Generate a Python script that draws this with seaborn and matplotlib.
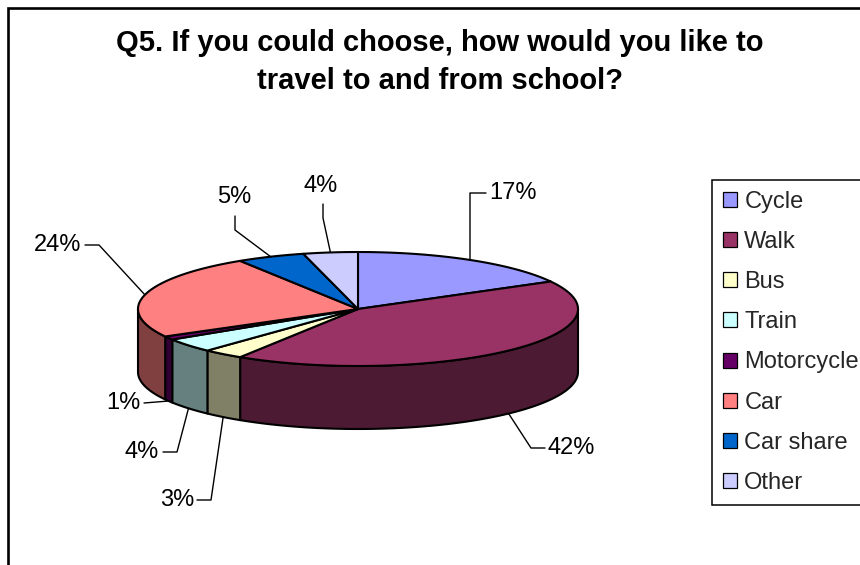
import numpy as np
import matplotlib
matplotlib.use("Agg")
import matplotlib.pyplot as plt
from matplotlib.patches import Polygon, Patch
from matplotlib.colors import to_rgb
import seaborn as sns

# ---- data -------------------------------------------------------------
categories = ["Cycle", "Walk", "Bus", "Train", "Motorcycle", "Car", "Car share", "Other"]
shares = [17, 42, 3, 4, 1, 24, 5, 4]
top_hex = ["#9999FF", "#993366", "#FFFFCC", "#CCFFFF", "#660066", "#FF8080", "#0066CC", "#CCCCFF"]
title = "Q5. If you could choose, how would you like to\ntravel to and from school?"

# ---- style ------------------------------------------------------------
sns.set_theme(style="white")
plt.rcParams["font.family"] = ["Liberation Sans", "DejaVu Sans"]
palette = sns.color_palette(top_hex)
side_palette = [tuple(0.5 * np.array(to_rgb(c))) for c in palette]

fig = plt.figure(figsize=(8.6, 5.65), dpi=100)
ax = fig.add_axes([0, 0, 1, 1])
ax.set_xlim(0, 860)
ax.set_ylim(565, 0)
ax.axis("off")

# chart-area border (left and top visible)
ax.plot([8, 8, 870], [575, 8, 8], color="black", lw=1.9, solid_joinstyle="miter")

# ---- 3-D pie geometry -------------------------------------------------
CX, CY = 358, 309      # centre of top face
RX, RY = 220, 57       # ellipse radii of top face
DEPTH = 63             # thickness of the pie
EDGE = dict(edgecolor="black", linewidth=1.5, joinstyle="round")


def rim(theta_deg, drop=0.0):
    t = np.radians(theta_deg)
    return np.column_stack([CX + RX * np.cos(t), CY - RY * np.sin(t) + drop])


total = float(sum(shares))
cum = np.concatenate([[0], np.cumsum(shares)]) / total
starts = 90 - 360 * cum[:-1]   # clockwise from 12 o'clock
ends = 90 - 360 * cum[1:]

# front side walls (visible half: -180..0 degrees)
for s, e, col in zip(starts, ends, side_palette):
    lo, hi = max(e, -180), min(s, 0)
    if hi <= lo:
        continue
    th = np.linspace(hi, lo, 80)
    pts = np.vstack([rim(th), rim(th[::-1], DEPTH)])
    ax.add_patch(Polygon(pts, closed=True, facecolor=col, **EDGE))

# top faces
for s, e, col in zip(starts, ends, palette):
    th = np.linspace(s, e, max(int(abs(s - e)), 2) + 1)
    pts = np.vstack([[CX, CY], rim(th)])
    ax.add_patch(Polygon(pts, closed=True, facecolor=col, **EDGE))

# ---- data labels with leader lines -----------------------------------
# (text x, text y, horizontal alignment, leader bend points)
label_layout = [
    (489, 193, "left",   [(470, 193), (486, 193)]),
    (547, 448, "left",   [(531, 448), (545, 448)]),
    (194, 500, "right",  [(211, 500), (197, 500)]),
    (159, 452, "right",  [(177, 452), (163, 452)]),
    (141, 403, "right",  [(144, 403)]),
    (81, 245, "right",   [(99, 245), (85, 245)]),
    (234, 197, "center", [(235, 230), (235, 216)]),
    (321, 186, "center", [(323, 218), (323, 204)]),
]

for s, e, v, (tx, ty, ha, bends) in zip(starts, ends, shares, label_layout):
    mid = (s + e) / 2
    front = np.sin(np.radians(mid)) < 0
    anchor = rim(mid, DEPTH if front else 0)[0]
    path = np.vstack([anchor, bends])
    ax.plot(path[:, 0], path[:, 1], color="black", lw=1.0)
    ax.text(tx, ty, f"{v}%", ha=ha, va="center", fontsize=17, color="black")

# ---- title ------------------------------------------------------------
ax.text(440, 62, title, ha="center", va="center", fontsize=21,
        fontweight="bold", linespacing=1.44, color="black")

# ---- legend -----------------------------------------------------------
handles = [Patch(facecolor=c, edgecolor="black", linewidth=0.9) for c in palette]
leg = ax.legend(handles, categories, loc="upper left",
                bbox_to_anchor=(712 / 860, 1 - 180 / 565),
                bbox_transform=fig.transFigure, frameon=True, fancybox=False,
                edgecolor="black", framealpha=1, borderpad=0.45,
                labelspacing=0.77, handlelength=0.6, handleheight=0.6,
                handletextpad=0.32, borderaxespad=0, fontsize=17)
leg.get_frame().set_linewidth(1.1)

fig.savefig("out.png", dpi=100, facecolor="white")
